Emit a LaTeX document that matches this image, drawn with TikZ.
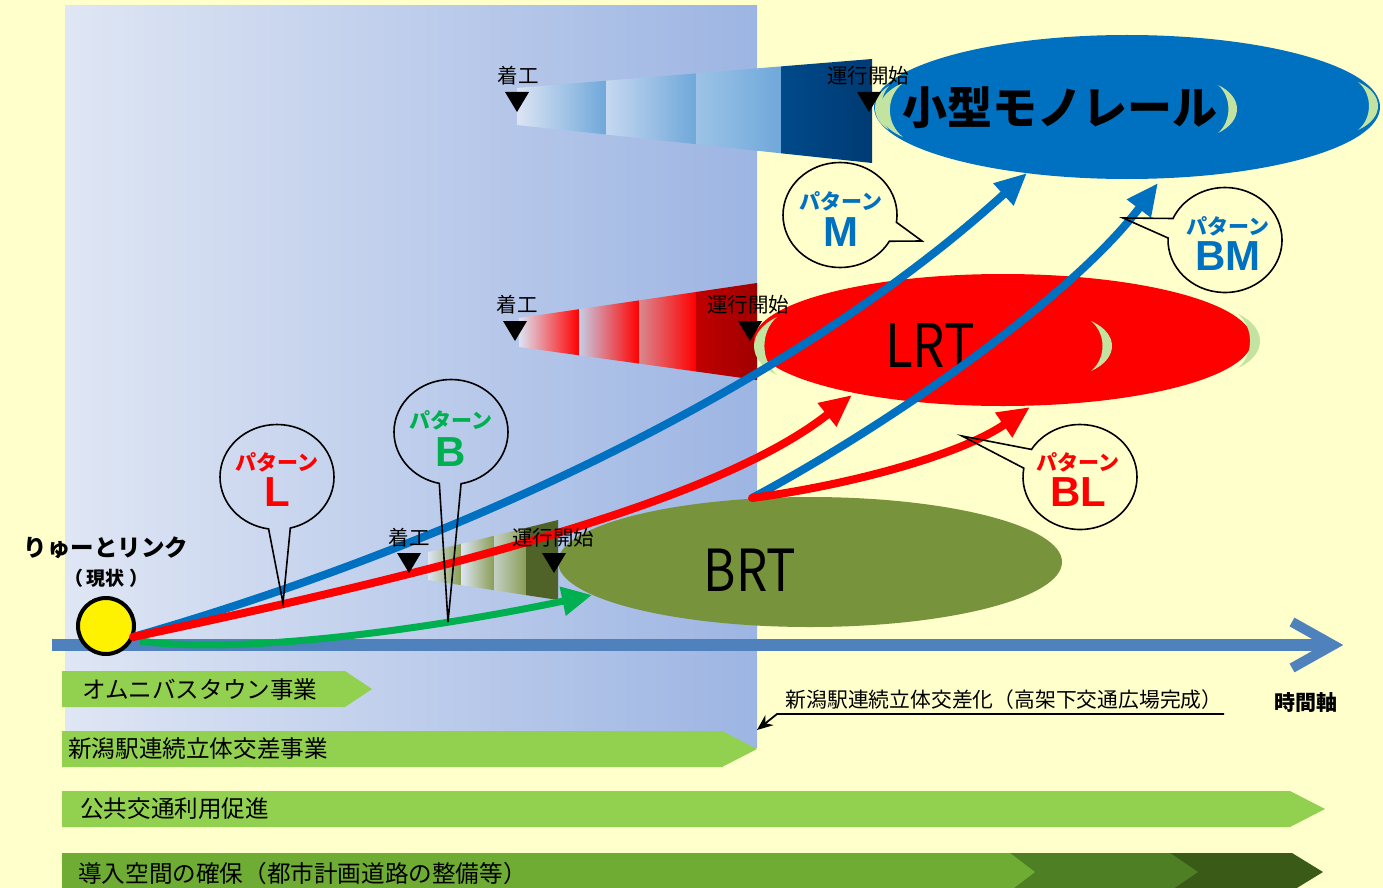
\documentclass[tikz,border=0pt]{standalone}
\usepackage{fontspec}
\setmainfont{Noto Sans CJK JP}
\newfontfamily\jp{Noto Sans CJK JP}
\newfontfamily\arialf{Liberation Sans}
\usetikzlibrary{arrows.meta,shapes.geometric,shapes.callouts,calc}
\definecolor{bgc}{HTML}{FFFFCC}
\definecolor{panelL}{HTML}{DFE6F4}
\definecolor{panelR}{HTML}{9DB5E3}
\definecolor{mono}{HTML}{0070C0}
\definecolor{lrtred}{HTML}{FF0000}
\definecolor{brtol}{HTML}{77933C}
\definecolor{grn}{HTML}{00B050}
\definecolor{axisc}{HTML}{4F81BD}
\definecolor{lgreen}{HTML}{92D050}
\definecolor{dg1}{HTML}{6FAC34}
\definecolor{dg2}{HTML}{4F7F24}
\definecolor{dg3}{HTML}{3A5A17}
\definecolor{cresc}{HTML}{C3E3A0}
\definecolor{lt}{HTML}{DCE4F3}
\definecolor{mb1}{HTML}{6FA8DA}
\definecolor{mb2}{HTML}{C6D8F0}
\definecolor{mb3}{HTML}{9CC3E6}
\definecolor{mb4}{HTML}{004A8A}
\definecolor{mb5}{HTML}{003A73}
\definecolor{rb2}{HTML}{C6CDE4}
\definecolor{rb3}{HTML}{D98890}
\definecolor{rb4}{HTML}{C00000}
\definecolor{rb5}{HTML}{A00000}
\definecolor{ob1}{HTML}{8A9E55}
\definecolor{ob4}{HTML}{4F6228}
\begin{document}
\begin{tikzpicture}[x=1pt,y=-1pt,
  cres/.pic={\fill[cresc] (0,-1) .. controls (1.333,-0.5) and (1.333,0.5) .. (0,1) .. controls (0.73,0.5) and (0.73,-0.5) .. (0,-1) -- cycle;},
  tri/.pic={\fill[black] (-12,0) -- (12,0) -- (0,20) -- cycle;},
  lab/.style={font=\jp\fontsize{20.5}{23}\selectfont, inner sep=0pt},
  bub/.style={ellipse callout, draw=black, line width=1.6pt, minimum width=114pt, minimum height=105pt, inner sep=0pt, callout pointer arc=22},
  patj/.style={font=\jp\bfseries\fontsize{21}{23}\selectfont, inner sep=0pt},
  patl/.style={font=\arialf\bfseries\fontsize{42}{44}\selectfont, inner sep=0pt},
  bartext/.style={font=\jp\fontsize{23.6}{26}\selectfont, inner sep=0pt, anchor=west},
  fatarrow/.style={line width=8pt, -{Triangle[length=32pt,width=28pt]}}
]
\clip (0,0) rectangle (1383,888);
\fill[bgc] (0,0) rectangle (1383,888);
\shade[left color=panelL, right color=panelR] (65,6) rectangle (757,747);

% monorail bar
\shade[left color=lt, right color=mb1] (517,88) -- (606,80.7) -- (606,134.5) -- (517,125) -- cycle;
\shade[left color=mb2, right color=mb1] (606,80.7) -- (696,73.4) -- (696,144.2) -- (606,134.5) -- cycle;
\shade[left color=mb3, right color=mb1] (696,73.4) -- (781,66.4) -- (781,153.3) -- (696,144.2) -- cycle;
\shade[left color=mb4, right color=mb5] (781,66.4) -- (872,59) -- (872,163) -- (781,153.3) -- cycle;
% LRT bar
\shade[left color=lt, right color=lrtred] (519,318) -- (579,309.2) -- (579,355.3) -- (519,347) -- cycle;
\shade[left color=rb2, right color=lrtred] (579,309.2) -- (639,300.4) -- (639,363.6) -- (579,355.3) -- cycle;
\shade[left color=rb3, right color=lrtred] (639,300.4) -- (696,292) -- (696,371.5) -- (639,363.6) -- cycle;
\shade[left color=rb4, right color=rb5] (696,292) -- (757,283) -- (757,380) -- (696,371.5) -- cycle;
% BRT bar
\shade[left color=lt, right color=ob1] (428,552) -- (461,543.9) -- (461,585.1) -- (428,580) -- cycle;
\shade[left color=lt, right color=ob1] (461,543.9) -- (494,535.8) -- (494,590.2) -- (461,585.1) -- cycle;
\shade[left color=lt!70!ob1, right color=ob1] (494,535.8) -- (526,527.9) -- (526,595.1) -- (494,590.2) -- cycle;
\fill[ob4] (526,527.9) -- (558,520) -- (558,600) -- (526,595.1) -- cycle;

% ellipses
\node[ellipse, fill=mono, minimum width=506pt, minimum height=144pt, inner sep=0pt] (monoE) at (1127,107) {};
\node[ellipse, fill=lrtred, minimum width=498pt, minimum height=132pt, inner sep=0pt] (lrtE) at (1003,340) {};
\node[ellipse, fill=brtol, minimum width=504pt, minimum height=130pt, inner sep=0pt] (brtE) at (810,562) {};
\pic[xscale=19,yscale=24] at (1218,109) {cres};
\pic[xscale=20,yscale=24] at (1358,106) {cres};
\pic[xscale=-24,yscale=27] at (903,110) {cres};
\pic[xscale=-14,yscale=22] at (889,108) {cres};
\pic[xscale=-23,yscale=29] at (777,346) {cres};
\pic[xscale=21,yscale=25] at (1091,346) {cres};
\pic[xscale=22,yscale=27] at (1238,341) {cres};
\node[font=\jp\bfseries\fontsize{45}{50}\selectfont, inner sep=0pt] (monoT) at (1060,108) {小型モノレール};
\node[font=\jp\fontsize{60}{64}\selectfont, inner sep=0pt] (lrtT) at (930,346) {\scalebox{0.85}[1]{LRT}};
\node[font=\jp\fontsize{58}{62}\selectfont, inner sep=0pt] (brtT) at (750,570) {\scalebox{0.85}[1]{BRT}};

% time axis
\coordinate (ax0) at (52,645);
\coordinate (ax1) at (1333,645);
\draw[axisc, line width=12pt] (ax0) -- (ax1);
\draw[axisc, line width=10pt] (1292,622) -- (ax1) -- (1292,668);

% present circle
\node[circle, fill=yellow, draw=black, line width=4pt, minimum size=56pt, inner sep=0pt] (cur) at (106,626) {};
\node[font=\jp\bfseries\fontsize{23.5}{26}\selectfont, inner sep=0pt] (curT) at (106,548) {りゅーとリンク};
\node[font=\jp\bfseries\fontsize{19}{22}\selectfont, inner sep=0pt] (curS) at (106,578) {（\kern4pt 現状\kern4pt ）};

% curves
\coordinate (s0) at (133,637);
\coordinate (mEnd) at (1027,173);
\coordinate (lEnd) at (852,395);
\coordinate (gEnd) at (592,595);
\coordinate (bs) at (752,498);
\coordinate (bmEnd) at (1158,183);
\coordinate (blEnd) at (1030,407);
\draw[mono, fatarrow] (s0) .. controls (470,540) and (800,380) .. (mEnd);
\draw[grn, line width=7pt, -{Triangle[length=30pt,width=28pt]}] (140,641) .. controls (250,656) and (450,625) .. (gEnd);
\draw[lrtred, fatarrow, line cap=round] (s0) .. controls (450,570) and (720,500) .. (lEnd);
\draw[mono, fatarrow] (bs) .. controls (880,430) and (1070,300) .. (bmEnd);
\draw[lrtred, fatarrow, line cap=round] (bs) .. controls (850,485) and (960,455) .. (blEnd);

% start / operation markers
\pic at (517,92) {tri}; \node[lab] (m1) at (518,76) {着工};
\pic at (869,92) {tri}; \node[lab] (m2) at (868,76) {運行開始};
\pic at (515,321) {tri}; \node[lab] (l1) at (517,305) {着工};
\pic at (750,321) {tri}; \node[lab] (l2) at (748,305) {運行開始};
\pic at (409,553) {tri}; \node[lab] (b1) at (409,538) {着工};
\pic at (554,553) {tri}; \node[lab] (b2) at (553,538) {運行開始};

% callouts
\node[bub, callout absolute pointer={(922,241)}] (bubM) at (840,215) {};
\node[patj, mono] (pM1) at (841,201) {パターン};
\node[patl, mono] (pM2) at (841,232) {M};
\node[bub, callout absolute pointer={(1123,218)}] (bubBM) at (1225,240) {};
\node[patj, mono] (pBM1) at (1228,226) {パターン};
\node[patl, mono] (pBM2) at (1228,256) {BM};
\node[bub, callout absolute pointer={(962,436)}] (bubBL) at (1080,477) {};
\node[patj, lrtred] (pBL1) at (1078,462) {パターン};
\node[patl, lrtred] (pBL2) at (1078,492) {BL};
\node[bub, callout absolute pointer={(283,603)}] (bubL) at (277,477) {};
\node[patj, lrtred] (pL1) at (277,462) {パターン};
\node[patl, lrtred] (pL2) at (277,492) {L};
\node[bub, callout absolute pointer={(448,622)}] (bubB) at (451,432) {};
\node[patj, grn] (pB1) at (451,420) {パターン};
\node[patl, grn] (pB2) at (451,452) {B};

% bottom bars
\fill[lgreen] (62,671) -- (345,671) -- (372,689) -- (345,707) -- (62,707) -- cycle;
\node[bartext] (t1) at (82,690) {オムニバスタウン事業};
\fill[lgreen] (62,731) -- (722,731) -- (757,749) -- (722,767) -- (62,767) -- cycle;
\node[bartext] (t2) at (68,749) {新潟駅連続立体交差事業};
\fill[lgreen] (62,791) -- (1290,791) -- (1325,809) -- (1290,827) -- (62,827) -- cycle;
\node[bartext] (t3) at (80,809) {公共交通利用促進};
\fill[dg3] (62,853) -- (1292,853) -- (1323,872) -- (1292,891) -- (62,891) -- cycle;
\fill[dg2] (62,853) -- (1170,853) -- (1198,872) -- (1170,891) -- (62,891) -- cycle;
\fill[dg1] (62,853) -- (1010,853) -- (1035,872) -- (1010,891) -- (62,891) -- cycle;
\node[bartext] (t4) at (78,874) {導入空間の確保（都市計画道路の整備等）};

% note
\node[font=\jp\fontsize{20.8}{23}\selectfont, inner sep=0pt] (note) at (1004,700) {新潟駅連続立体交差化（高架下交通広場完成）};
\coordinate (nR) at (1224,714);
\coordinate (nL) at (777,714);
\coordinate (nT) at (757,730);
\draw[line width=1.8pt, -{Stealth[length=16pt,width=13pt]}] (nR) -- (nL) -- (nT);
\node[font=\jp\bfseries\fontsize{21}{24}\selectfont, inner sep=0pt] (axT) at (1306,703) {時間軸};
\end{tikzpicture}
\end{document}
